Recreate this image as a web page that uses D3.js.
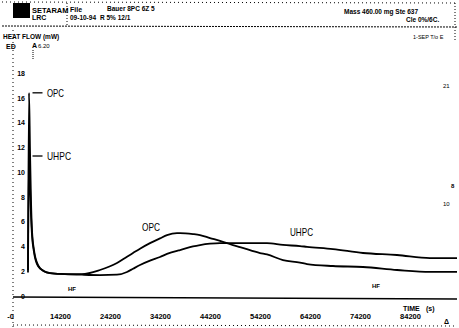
<!DOCTYPE html>
<html>
<head>
<meta charset="utf-8">
<script src="https://cdn.jsdelivr.net/npm/d3@7"></script>
<style>
  html, body { margin: 0; padding: 0; background: #fff; }
  svg { display: block; }
  text { font-family: "Liberation Sans Narrow", "Liberation Sans", Arial, sans-serif; fill: #000; }
</style>
</head>
<body>
<svg id="chart"></svg>
<script>
// heat flow readings, time in seconds, heat flow in mW
const timeS = [7800, 8000, 8200, 8400, 8600, 9000, 9800, 11000, 12200, 15200, 18600, 22200,
  25600, 27600, 28800, 30200, 32200, 34200, 35600, 37600, 38200, 40800, 42200, 44200,
  46200, 47600, 48800, 50200, 54200, 55600, 58800, 62200, 63600, 68800, 74800, 81600, 88200, 93600]
const opc = [2.1, 16.4, 11.8, 7.7, 5.3, 3.7, 2.5, 2.0, 1.85, 1.77, 1.77, 2.1,
  2.66, 3.17, 3.47, 3.82, 4.27, 4.65, 4.92, 5.08, 5.08, 5.0, 4.92, 4.68,
  4.45, 4.27, 4.1, 3.95, 3.47, 3.35, 2.9, 2.7, 2.58, 2.42, 2.34, 2.1, 1.94, 1.94]
const uhpc = [1.9, 11.3, 8.95, 6.5, 4.9, 3.55, 2.42, 2.0, 1.85, 1.77, 1.72, 1.69,
  1.72, 1.94, 2.2, 2.5, 2.85, 3.15, 3.4, 3.65, 3.71, 4.0, 4.11, 4.22,
  4.27, 4.27, 4.27, 4.27, 4.27, 4.27, 4.12, 4.03, 3.97, 3.79, 3.47, 3.31, 3.06, 3.06]
const yTicks = [0, 2, 4, 6, 8, 10, 12, 14, 16, 18]
const xTicks = [4200, 14200, 24200, 34200, 44200, 54200, 64200, 74200, 84200]
const xTickLabels = ['-0', '14200', '24200', '34200', '44200', '54200', '64200', '74200', '84200']

const width = 459
const height = 328

const svg = d3.select('#chart')
  .attr('width', width)
  .attr('height', height)
  .attr('viewBox', `0 0 ${width} ${height}`)

const x = d3.scaleLinear().domain([7800, 93600]).range([28, 457])
const y = d3.scaleLinear().domain([0, 18]).range([296, 73])

const dotted = (x1, y1, x2, y2, dash = '1,2') => svg.append('line')
  .attr('x1', x1).attr('y1', y1).attr('x2', x2).attr('y2', y2)
  .attr('stroke', '#000').attr('stroke-width', 1).attr('stroke-dasharray', dash)

const label = (tx, ty, str, size, weight = 700, anchor = 'start') => svg.append('text')
  .attr('x', tx).attr('y', ty)
  .attr('font-size', size)
  .attr('font-weight', weight)
  .attr('text-anchor', anchor)
  .text(str)

// header block of the printout
dotted(2, 2, 457, 3, '1,3')
dotted(2, 26, 457, 27, '2,1')
dotted(67, 3, 67, 25, '1,2')
dotted(455, 3, 455, 40, '1,2')
svg.append('rect').attr('x', 13).attr('y', 3).attr('width', 17).attr('height', 15).attr('fill', '#000')
label(32, 13, 'SETARAM', 7.5, 700)
label(32, 20, 'LRC', 7, 700)
label(70, 12, 'File', 7, 700)
label(107, 11, 'Bauer 8PC 6Z 5', 6.5, 700)
label(70, 20, '09-10-94', 6.5, 700)
label(100, 20, 'R 5% 12/1', 6.5, 700)
label(344, 14, 'Mass  460.00 mg   Ste  637', 6.5, 700)
label(406, 22, 'Cle  0%/6C.', 6.5, 700)
label(3, 39, 'HEAT FLOW  (mW)', 6.5, 700)
label(413, 39, '1-SEP   T/o   E', 5.5, 400)
label(6, 49, 'ED', 7, 700)
label(32, 48, 'A', 7, 700)
label(38, 48, '6.20', 6, 400)
dotted(33, 50, 33, 60, '1,1')

// left border and axes
dotted(13, 30, 13, 327, '1,3')
dotted(13, 325, 457, 326, '1,3')

svg.append('g')
  .attr('transform', 'translate(27,0)')
  .call(d3.axisLeft(y).tickValues(yTicks).tickSize(0).tickPadding(2))
  .call(g => g.select('.domain').remove())
  .call(g => g.selectAll('text')
    .attr('font-size', 7)
    .attr('font-weight', 700)
    .attr('font-family', '"Liberation Sans Narrow", "Liberation Sans", sans-serif'))

svg.append('line')
  .attr('x1', 13).attr('y1', y(0) + 1).attr('x2', 457).attr('y2', y(0) + 3)
  .attr('stroke', '#000').attr('stroke-width', 1.3)

svg.append('g')
  .attr('transform', `translate(0,${y(0) + 1})`)
  .call(d3.axisBottom(x).tickValues(xTicks).tickSize(0).tickPadding(17)
    .tickFormat((d, i) => xTickLabels[i]))
  .call(g => g.select('.domain').remove())
  .call(g => g.selectAll('text')
    .attr('font-size', 7.5)
    .attr('font-weight', 700)
    .attr('font-family', '"Liberation Sans Narrow", "Liberation Sans", sans-serif'))

label(403, 311, 'TIME', 7, 700)
label(426, 311, '(s)', 7, 700)
label(68, 291, 'HF', 6, 700)
label(372, 288, 'HF', 6, 700)
label(443, 88, '21', 6, 400)
label(443, 206, '10', 6, 400)
label(451, 188, '8', 6, 700)
label(444, 324, 'Δ', 7, 700)

// curves
const line = d3.line()
  .x(d => x(d[0]))
  .y(d => y(d[1]))
  .curve(d3.curveMonotoneX)

svg.append('path')
  .datum(timeS.map((t, i) => [t, opc[i]]))
  .attr('d', line)
  .attr('fill', 'none')
  .attr('stroke', '#000')
  .attr('stroke-width', 1.8)

svg.append('path')
  .datum(timeS.map((t, i) => [t, uhpc[i]]))
  .attr('d', line)
  .attr('fill', 'none')
  .attr('stroke', '#000')
  .attr('stroke-width', 1.8)

// series labels, squeezed like the condensed printer font
const seriesLabel = (tx, ty, str, w) => label(tx, ty, str, 11, 400)
  .attr('textLength', w)
  .attr('lengthAdjust', 'spacingAndGlyphs')

const peakTag = (value, str, w) => {
  svg.append('line')
    .attr('x1', x(8700)).attr('x2', x(10700))
    .attr('y1', y(value)).attr('y2', y(value))
    .attr('stroke', '#000').attr('stroke-width', 1.3)
  seriesLabel(x(11600), y(value) + 4, str, w)
}
peakTag(16.4, 'OPC', 17)
peakTag(11.3, 'UHPC', 24)

seriesLabel(142, 231, 'OPC', 18)
seriesLabel(290, 236, 'UHPC', 23)
</script>
</body>
</html>
